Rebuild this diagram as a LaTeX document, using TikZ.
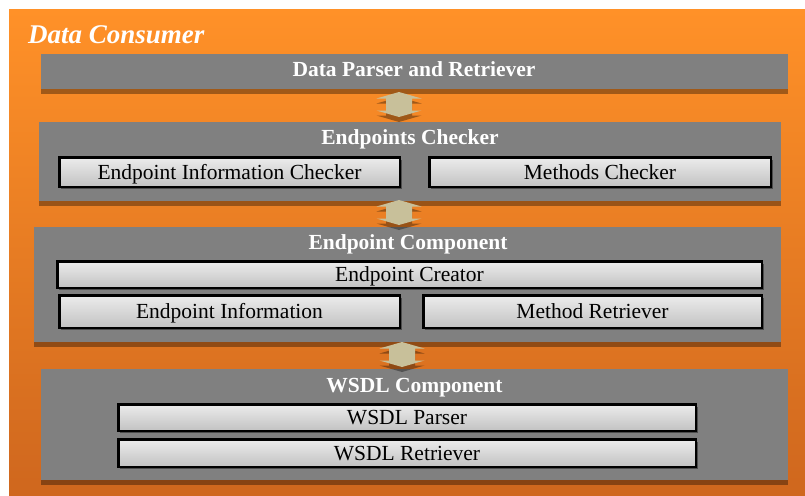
\documentclass[tikz,border=0pt]{standalone}
\usepackage{fontspec}
\setmainfont{Liberation Serif}
\usetikzlibrary{shadows,calc}
\definecolor{orangeTop}{RGB}{255,145,40}
\definecolor{orangeBot}{RGB}{207,103,30}
\definecolor{panelgray}{RGB}{128,128,128}
\definecolor{khaki}{RGB}{200,192,154}
\definecolor{boxTop}{RGB}{236,236,236}
\definecolor{boxBot}{RGB}{194,194,194}
\begin{document}
\begin{tikzpicture}[x=1pt,y=-1pt,
  panel/.style={fill=panelgray, draw=none, inner sep=0pt, outer sep=0pt,
    drop shadow={shadow xshift=0pt, shadow yshift=-5pt, fill=black, opacity=0.35}},
  paneltitle/.style={text=white, font=\fontsize{21.5}{24}\selectfont\bfseries, inner sep=0pt},
  ibox/.style={draw=black, line width=2.5pt, top color=boxTop, bottom color=boxBot,
    inner sep=0pt, outer sep=0pt, font=\fontsize{21.5}{24}\selectfont,
    text height=14.2pt, text depth=0pt,
    drop shadow={shadow xshift=2pt, shadow yshift=-2.5pt, fill=black, opacity=0.4}},
  dblarrow/.pic={
    \fill[black, opacity=0.35, shift={(0,5)}]
      (0,-12.5) -- (22.5,-6) -- (13,-6) -- (13,6) -- (22.5,6) -- (0,12.5)
      -- (-22.5,6) -- (-13,6) -- (-13,-6) -- (-22.5,-6) -- cycle;
    \fill[khaki]
      (0,-12.5) -- (22.5,-6) -- (13,-6) -- (13,6) -- (22.5,6) -- (0,12.5)
      -- (-22.5,6) -- (-13,6) -- (-13,-6) -- (-22.5,-6) -- cycle;
  }]
\useasboundingbox (0,0) rectangle (805,495);

% orange background of the consumer
\shade[top color=orangeTop, bottom color=orangeBot] (9,10) rectangle (805,495);
\node[anchor=base west, inner sep=0pt, text=white,
      font=\fontsize{27}{30}\selectfont\bfseries\itshape] (consumer) at (28,44) {Data Consumer};

% layers
\node[panel, minimum width=747pt, minimum height=35pt] (parser) at (414.5,71.5) {};
\node[panel, minimum width=742pt, minimum height=79pt] (checker) at (410,161.5) {};
\node[panel, minimum width=747pt, minimum height=115pt] (comp) at (407.5,284.5) {};
\node[panel, minimum width=747pt, minimum height=111pt] (wsdl) at (414.5,424.5) {};

\node[paneltitle, anchor=base] (parserT) at (414,77) {Data Parser and Retriever};
\node[paneltitle, anchor=base] (checkerT) at (410,144) {Endpoints Checker};
\node[paneltitle, anchor=base] (compT) at (408,249) {Endpoint Component};
\node[paneltitle, anchor=base] (wsdlT) at (414.5,392) {WSDL Component};

% inner modules
\node[ibox, minimum width=340.5pt, minimum height=29.5pt] (eic) at (229.5,172) {Endpoint Information Checker};
\node[ibox, minimum width=341.5pt, minimum height=29.5pt] (mc) at (600,172) {Methods Checker};
\node[ibox, minimum width=704.5pt, minimum height=26.5pt] (ec) at (409.5,274.5) {Endpoint Creator};
\node[ibox, minimum width=340.5pt, minimum height=32.5pt] (ei) at (229.5,311.5) {Endpoint Information};
\node[ibox, minimum width=338.5pt, minimum height=32.5pt] (mr) at (592.5,311.5) {Method Retriever};
\node[ibox, minimum width=577.5pt, minimum height=26.5pt] (wp) at (407,417.5) {WSDL Parser};
\node[ibox, minimum width=577.5pt, minimum height=27.5pt] (wr) at (407,453) {WSDL Retriever};

% two-way arrows between the layers
\coordinate (ax) at (399,0);
\coordinate (bx) at (402,0);
\coordinate (m1) at ($(parser.south)!0.5!(checker.north)+(0,-1)$);
\coordinate (m2) at ($(checker.south)!0.5!(comp.north)+(0,-1.5)$);
\coordinate (m3) at ($(comp.south)!0.5!(wsdl.north)+(0,-1)$);
\pic at (ax |- m1) {dblarrow};
\pic at (ax |- m2) {dblarrow};
\pic at (bx |- m3) {dblarrow};
\end{tikzpicture}
\end{document}
